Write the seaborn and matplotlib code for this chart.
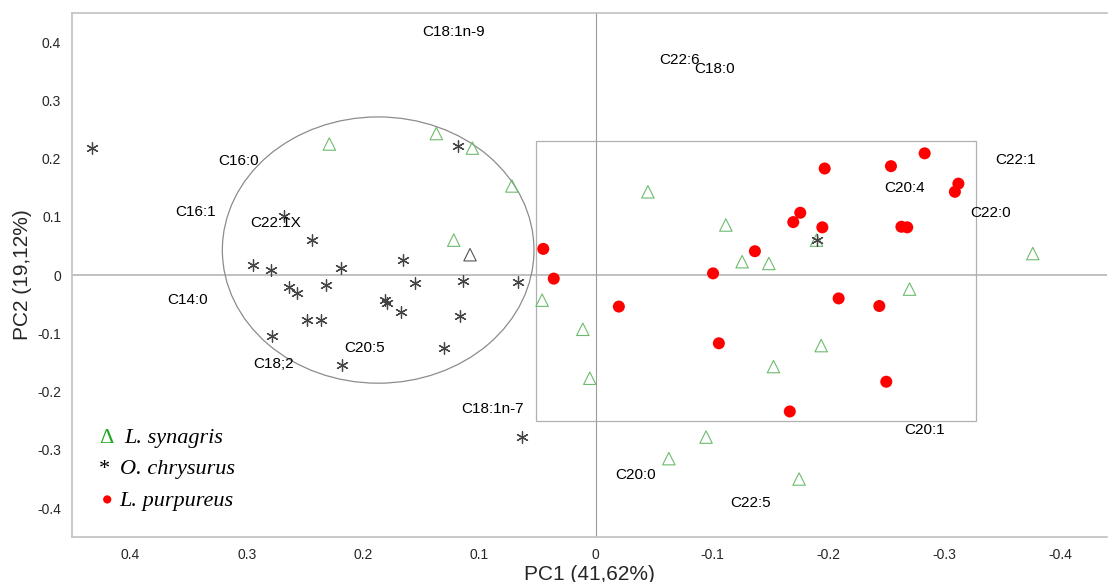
import matplotlib
matplotlib.use('Agg')
import matplotlib.pyplot as plt
from matplotlib.patches import Ellipse, Rectangle
import seaborn as sns
import pandas as pd

# ── scores (PC1, PC2) ──
syn_x = [0.229, 0.137, 0.106, 0.072, 0.122, 0.046, 0.011, 0.005, -0.045, -0.112,
         -0.126, -0.149, -0.190, -0.376, -0.270, -0.194, -0.153, -0.095, -0.063, -0.175]
syn_y = [0.225, 0.243, 0.218, 0.153, 0.060, -0.043, -0.093, -0.177, 0.143, 0.086,
         0.023, 0.020, 0.060, 0.037, -0.024, -0.121, -0.157, -0.278, -0.315, -0.350]
syn_dark_x = [0.108]
syn_dark_y = [0.035]

chr_x = [0.433, 0.118, 0.268, 0.244, 0.295, 0.279, 0.219, 0.166, 0.264, 0.257,
         0.232, 0.155, 0.114, 0.067, 0.181, 0.179, 0.167, 0.248, 0.236, 0.117,
         0.278, 0.130, 0.218, 0.063, -0.190]
chr_y = [0.218, 0.221, 0.102, 0.060, 0.018, 0.009, 0.012, 0.026, -0.021, -0.030,
         -0.017, -0.014, -0.010, -0.011, -0.042, -0.048, -0.064, -0.077, -0.077, -0.071,
         -0.104, -0.125, -0.155, -0.277, 0.060]

pur_x = [-0.197, -0.254, -0.283, -0.312, -0.309, -0.176, -0.170, -0.195, -0.263, -0.268,
         -0.137, -0.101, 0.045, 0.036, -0.020, -0.209, -0.244, -0.106, -0.250, -0.167]
pur_y = [0.183, 0.187, 0.209, 0.157, 0.143, 0.107, 0.091, 0.082, 0.083, 0.082,
         0.041, 0.003, 0.045, -0.006, -0.054, -0.040, -0.053, -0.117, -0.183, -0.234]

# fatty acid labels
fa_names = ['C18:1n-9', 'C16:0', 'C16:1', 'C22:1X', 'C14:0', 'C20:5', 'C18;2', 'C18:1n-7',
            'C22:6', 'C18:0', 'C22:1', 'C20:4', 'C22:0', 'C20:1', 'C20:0', 'C22:5']
fa_x = [0.122, 0.307, 0.344, 0.275, 0.351, 0.199, 0.277, 0.089,
        -0.072, -0.102, -0.361, -0.266, -0.340, -0.283, -0.034, -0.133]
fa_y = [0.417, 0.196, 0.109, 0.089, -0.043, -0.125, -0.153, -0.230,
        0.370, 0.354, 0.197, 0.149, 0.107, -0.266, -0.343, -0.391]

syn = pd.DataFrame({'PC1': syn_x, 'PC2': syn_y})
syn_dark = pd.DataFrame({'PC1': syn_dark_x, 'PC2': syn_dark_y})
chrys = pd.DataFrame({'PC1': chr_x, 'PC2': chr_y})
purp = pd.DataFrame({'PC1': pur_x, 'PC2': pur_y})

sns.set_style('white')
plt.rcParams['font.family'] = ['Liberation Sans', 'DejaVu Sans']

fig = plt.figure(figsize=(11.08, 5.82), dpi=100)
ax = fig.add_axes([0.0653, 0.0768, 0.934, 0.901])

# group outlines
ax.add_patch(Ellipse((0.187, 0.043), 0.268, 0.457, fill=False, ec='#8c8c8c', lw=0.9))
ax.add_patch(Rectangle((-0.327, -0.250), 0.378, 0.481, fill=False, ec='#b0b0b0', lw=0.9))
ax.axhline(0, color='#b5b5b5', lw=1.2, zorder=0)
ax.axvline(0, color='#9a9a9a', lw=0.8, zorder=0)

sns.scatterplot(data=syn, x='PC1', y='PC2', marker='^', s=80, facecolor='none',
                edgecolor='#6dbb6d', linewidth=0.8, ax=ax, zorder=3)
sns.scatterplot(data=syn_dark, x='PC1', y='PC2', marker='^', s=80, facecolor='none',
                edgecolor='#555555', linewidth=0.8, ax=ax, zorder=3)
sns.scatterplot(data=chrys, x='PC1', y='PC2', marker=(6, 2, 0), s=70, color='#444444',
                linewidth=0.9, ax=ax, zorder=4)
sns.scatterplot(data=purp, x='PC1', y='PC2', marker='o', s=75, color='#ff0000',
                edgecolor='none', ax=ax, zorder=5)

for name, x, y in zip(fa_names, fa_x, fa_y):
    ax.text(x, y, name, fontsize=11, ha='center', va='center', color='black', zorder=6)

# species key
key_font = dict(family=['Liberation Serif', 'DejaVu Serif'], fontsize=16, va='center')
ax.text(0.427, -0.280, '\u0394', color='#22aa22', ha='left', **key_font)
ax.text(0.405, -0.280, 'L. synagris', style='italic', color='black', ha='left', **key_font)
ax.text(0.427, -0.333, '*', color='black', ha='left', **key_font)
ax.text(0.409, -0.333, 'O. chrysurus', style='italic', color='black', ha='left', **key_font)
sns.scatterplot(x=[0.420], y=[-0.385], marker='o', s=35, color='#ff0000', edgecolor='none', ax=ax)
ax.text(0.410, -0.388, 'L. purpureus', style='italic', color='black', ha='left', **key_font)

ax.set_xlim(0.45, -0.44)
ax.set_ylim(-0.45, 0.45)
ax.set_xticks([0.4, 0.3, 0.2, 0.1, 0, -0.1, -0.2, -0.3, -0.4])
ax.set_xticklabels(['0.4', '0.3', '0.2', '0.1', '0', '-0.1', '-0.2', '-0.3', '-0.4'])
ax.set_yticks([0.4, 0.3, 0.2, 0.1, 0, -0.1, -0.2, -0.3, -0.4])
ax.set_yticklabels(['0.4', '0.3', '0.2', '0.1', '0', '-0.1', '-0.2', '-0.3', '-0.4'])
ax.tick_params(direction='in', length=4, width=0.8, color='#555555', labelsize=10, pad=8)
ax.set_xlabel('PC1 (41,62%)', fontsize=15, labelpad=2)
ax.set_ylabel('PC2 (19,12%)', fontsize=15, labelpad=4)

for side in ['left', 'bottom', 'top']:
    ax.spines[side].set_color('#c0c0c0')
    ax.spines[side].set_linewidth(1.2)
ax.spines['right'].set_visible(False)

plt.savefig('out.png', dpi=100)
plt.close()
